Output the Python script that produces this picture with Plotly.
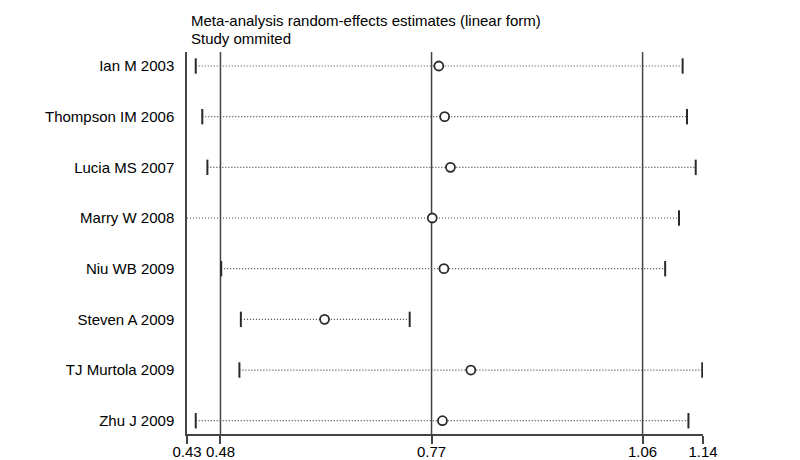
import plotly.graph_objects as go

studies = [
    "Ian M 2003",
    "Thompson IM 2006",
    "Lucia MS 2007",
    "Marry W 2008",
    "Niu WB 2009",
    "Steven A 2009",
    "TJ Murtola 2009",
    "Zhu J 2009",
]
estimate = [0.780, 0.788, 0.796, 0.771, 0.787, 0.623, 0.824, 0.785]
ci_lower = [0.446, 0.455, 0.462, 0.434, 0.481, 0.508, 0.506, 0.446]
ci_upper = [1.115, 1.121, 1.133, 1.110, 1.091, 0.740, 1.142, 1.123]

tick_vals = [0.434, 0.480, 0.770, 1.060, 1.143]
tick_text = ["0.43", "0.48", "0.77", "1.06", "1.14"]
ref_lines = [0.480, 0.770, 1.060]

title_lines = ["Meta-analysis random-effects estimates (linear form)", "Study ommited"]

FONT = "Liberation Sans, Arial, sans-serif"
INK = "#2a2a2a"

# dotted confidence intervals, one segment per study
seg_x, seg_y = [], []
for name, lo, hi in zip(studies, ci_lower, ci_upper):
    seg_x += [lo, hi, None]
    seg_y += [name, name, None]

fig = go.Figure()
fig.add_trace(go.Scatter(
    x=seg_x, y=seg_y, mode="lines",
    line=dict(color="#444444", width=1.2, dash="1px,2px"),
    hoverinfo="skip",
))
fig.add_trace(go.Scatter(
    x=ci_lower[:3] + ci_lower[4:] + ci_upper,
    y=studies[:3] + studies[4:] + studies,
    mode="markers",
    marker=dict(symbol="line-ns-open", size=11, color=INK,
                line=dict(color=INK, width=2)),
))
fig.add_trace(go.Scatter(
    x=estimate, y=studies, mode="markers",
    marker=dict(symbol="circle", size=9, color="white",
                line=dict(color=INK, width=1.8)),
))

for v in ref_lines:
    fig.add_shape(type="line", xref="x", yref="paper", x0=v, x1=v, y0=0, y1=1,
                  line=dict(color="#444444", width=1.5), layer="below")

for line, shift in zip(title_lines, [32, 14]):
    fig.add_annotation(
        xref="paper", yref="paper", x=0, y=1, xanchor="left", yanchor="middle",
        xshift=2, yshift=shift, showarrow=False, text=line,
        font=dict(family=FONT, size=15, color="#000000"),
    )

# the page body adds an 8px offset, so margins are shifted to compensate
fig.update_layout(
    width=800, height=460,
    margin=dict(l=179, r=105, t=44, b=34),
    plot_bgcolor="white", paper_bgcolor="white",
    showlegend=False,
    font=dict(family=FONT, size=15, color="#000000"),
    xaxis=dict(
        range=[tick_vals[0], tick_vals[-1]],
        tickvals=tick_vals, ticktext=tick_text,
        showgrid=False, zeroline=False, automargin=False,
        showline=True, linecolor="#444444", linewidth=1.5,
        ticks="outside", ticklen=8, tickwidth=1.5, tickcolor="#444444",
        ticklabelstandoff=-5,
        tickfont=dict(size=15),
    ),
    yaxis=dict(
        type="category", categoryarray=studies,
        range=[7.262, -0.276], automargin=False,
        showgrid=False, zeroline=False,
        showline=True, linecolor="#444444", linewidth=1.5,
        ticks="", ticklabelstandoff=8,
        tickfont=dict(size=15),
    ),
)

fig.write_html("out.html")
